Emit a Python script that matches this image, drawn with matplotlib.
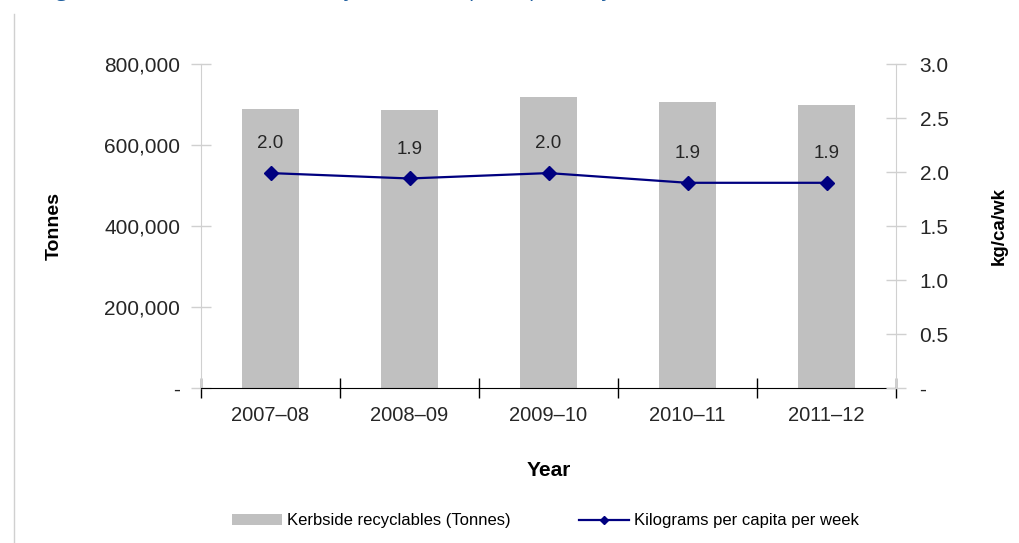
import numpy as np
import matplotlib
matplotlib.use('Agg')
import matplotlib.pyplot as plt
from matplotlib.ticker import FuncFormatter, FixedLocator
from matplotlib.patches import Patch
from matplotlib.lines import Line2D

plt.rcParams['font.family'] = ['Liberation Sans', 'DejaVu Sans']

# 데이터
years = ['2007–08', '2008–09', '2009–10', '2010–11', '2011–12']
tonnes = [690000, 686000, 718000, 705000, 700000]
kg_per_capita = [1.99, 1.94, 1.99, 1.90, 1.90]
kg_labels = ['2.0', '1.9', '2.0', '1.9', '1.9']

bar_color = '#c0c0c0'
line_color = '#000080'
text_color = '#262626'

fig = plt.figure(figsize=(10.19, 5.43), dpi=100)
ax = fig.add_axes([201 / 1019, 1 - 388 / 543, (896 - 201) / 1019, (388 - 64) / 543])

x = np.arange(len(years))
ax.bar(x, tonnes, width=0.41, color=bar_color, zorder=1)
ax.set_xlim(-0.5, len(years) - 0.5)
ax.set_ylim(0, 800000)
ax.set_yticks([0, 200000, 400000, 600000, 800000])
ax.yaxis.set_major_formatter(FuncFormatter(lambda v, p: '-' if v == 0 else f'{int(v):,}'))

# x축: 경계에 눈금, 가운데에 라벨
ax.xaxis.set_major_locator(FixedLocator(np.arange(-0.5, len(years), 1.0)))
ax.xaxis.set_minor_locator(FixedLocator(x))
ax.set_xticklabels([])
ax.set_xticklabels(years, minor=True)
ax.tick_params(axis='x', which='major', direction='inout', length=14, width=1, color='black')
ax.tick_params(axis='x', which='minor', length=0, pad=13, labelsize=14.5, labelcolor=text_color)
ax.tick_params(axis='y', direction='inout', length=14, width=1, color='#d0d0d0',
               labelsize=15, labelcolor=text_color, pad=8)

for s in ['top', 'right']:
    ax.spines[s].set_visible(False)
ax.spines['left'].set_color('#d0d0d0')
ax.spines['bottom'].set_color('black')
ax.spines['bottom'].set_zorder(5)

ax2 = ax.twinx()
ax2.plot(x, kg_per_capita, color=line_color, lw=1.6, marker='D', markersize=7, zorder=3)
ax2.set_ylim(0, 3.0)
ax2.set_yticks([0, 0.5, 1.0, 1.5, 2.0, 2.5, 3.0])
ax2.yaxis.set_major_formatter(FuncFormatter(lambda v, p: '-' if v == 0 else f'{v:.1f}'))
ax2.tick_params(axis='y', direction='inout', length=14, width=1, color='#d0d0d0',
                labelsize=15, labelcolor=text_color, pad=10)
for s in ['top', 'left', 'bottom']:
    ax2.spines[s].set_visible(False)
ax2.spines['right'].set_color('#d0d0d0')

for xi, yi, lab in zip(x, kg_per_capita, kg_labels):
    ax2.annotate(lab, (xi, yi), xytext=(0, 15), textcoords='offset points',
                 ha='center', va='bottom', fontsize=13.5, color=text_color)

ax.set_ylabel('Tonnes', fontsize=14, fontweight='bold', labelpad=30)
ax2.set_ylabel('kg/ca/wk', fontsize=13.5, fontweight='bold', labelpad=30)
ax.set_xlabel('Year', fontsize=15, fontweight='bold', labelpad=26)

handles = [Patch(facecolor=bar_color, edgecolor='none'),
           Line2D([0], [0], color=line_color, lw=1.6, marker='D', markersize=4)]
fig.legend(handles, ['Kerbside recyclables (Tonnes)', 'Kilograms per capita per week'],
           loc='center', bbox_to_anchor=(545 / 1019, 1 - 521 / 543), ncol=2, frameon=False,
           fontsize=12, handlelength=3.0, handleheight=0.6, handletextpad=0.3,
           columnspacing=4.1)

# 잘린 제목과 왼쪽 테두리
fig.text(40 / 1019, 1 + 4 / 543, 'Figure 5: Total and kerbside recyclables and per capita recyclables collected in NSW',
         fontsize=15, color='#1f5f9f', family=['Open Sans', 'DejaVu Sans'], va='baseline')
fig.add_artist(Line2D([14 / 1019, 14 / 1019], [0, 1 - 14 / 543], color='#d0d0d0', lw=1))

fig.savefig('out.png', dpi=100)
